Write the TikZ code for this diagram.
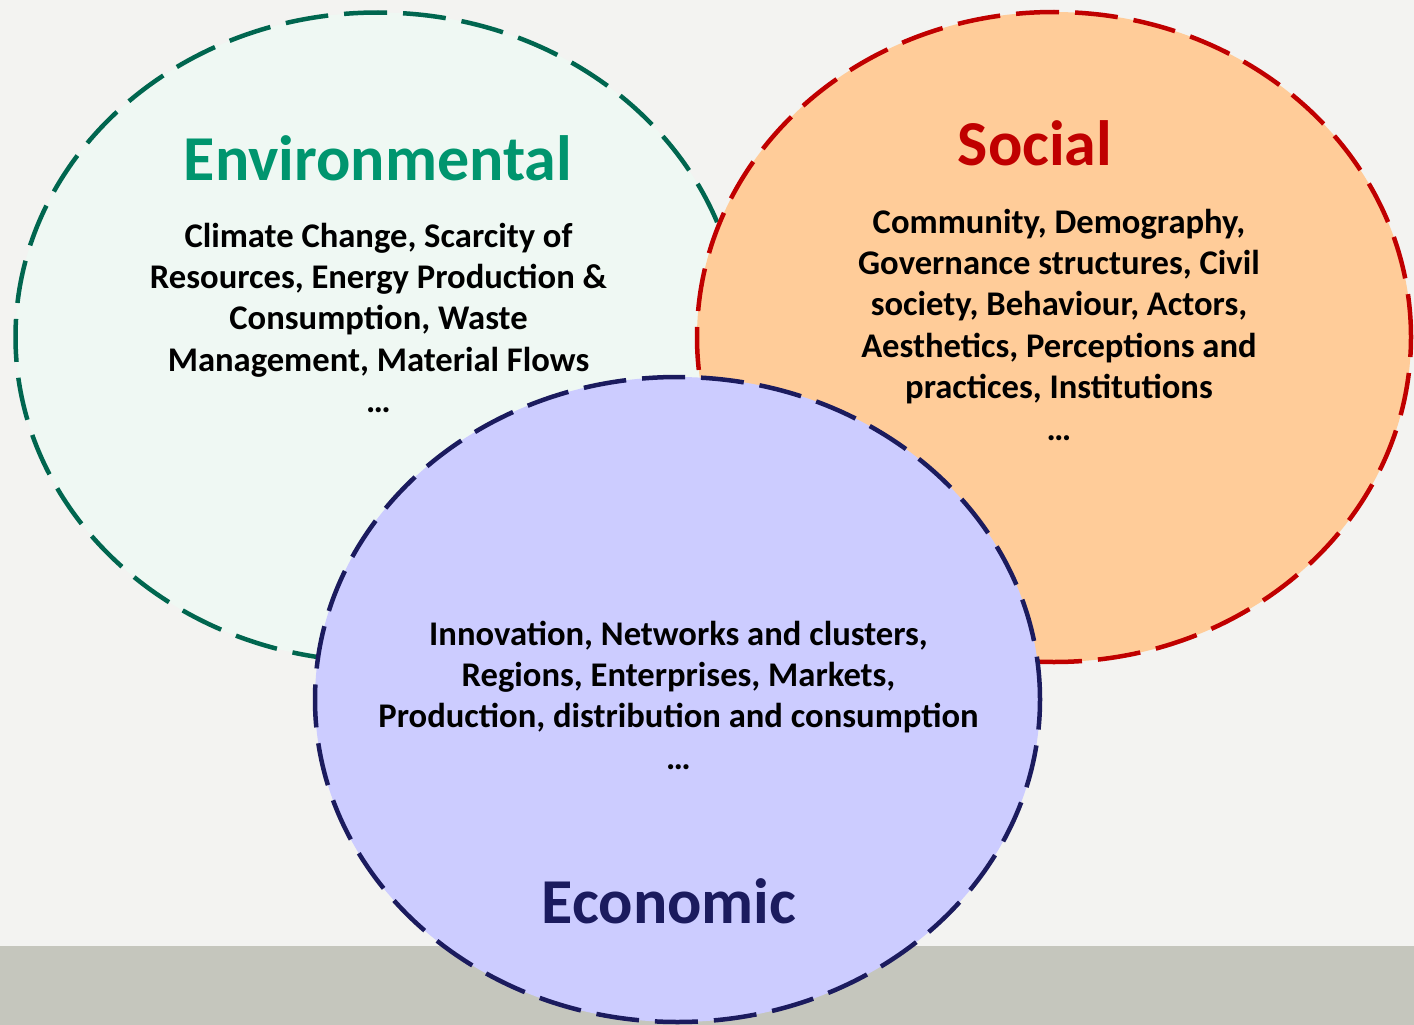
\documentclass[tikz,border=0pt]{standalone}
\usepackage{fontspec}
\setmainfont{Carlito}
\usetikzlibrary{shapes.geometric}

\definecolor{pagebg}{HTML}{F3F3F1}
\definecolor{floorband}{HTML}{C5C6BD}
\definecolor{envfill}{HTML}{EFF8F3}
\definecolor{envline}{HTML}{00664F}
\definecolor{envtitle}{HTML}{00956E}
\definecolor{socfill}{HTML}{FFCC99}
\definecolor{socline}{HTML}{C00000}
\definecolor{ecofill}{HTML}{CCCCFF}
\definecolor{ecoline}{HTML}{1B1B5E}

\tikzset{
  pillar/.style={ellipse, inner sep=0pt, outer sep=0pt,
    line width=4.5pt, dash pattern=on 43pt off 16pt},
  headline/.style={font=\bfseries\fontsize{64}{64}\selectfont, anchor=base, inner sep=0pt},
  % anchor=base of a multi-line node sits on its last line
  bodytext/.style={font=\bfseries\fontsize{34.6}{41.4}\selectfont, align=center,
    anchor=base, inner sep=0pt, text=black}
}

\begin{document}
\begin{tikzpicture}[x=1pt, y=-1pt]
  % page and floor band
  \fill[pagebg] (0,0) rectangle (1414,1025);
  \fill[floorband] (0,946) rectangle (1414,1025);
  \useasboundingbox (0,0) rectangle (1414,1025);

  % the three pillars
  \node[pillar, draw=envline, fill=envfill, minimum width=725pt, minimum height=649pt]
    (env) at (378,337) {};
  \node[pillar, draw=socline, fill=socfill, minimum width=714pt, minimum height=650pt]
    (soc) at (1054,337) {};
  \node[pillar, draw=ecoline, fill=ecofill, minimum width=725pt, minimum height=645pt]
    (eco) at (677.5,699.5) {};

  % environmental
  \node[headline, text=envtitle] (envtitle) at (378,180) {Environmental};
  \node[bodytext] (envbody) at (378.5,412.6) {Climate Change, Scarcity of\\
    Resources, Energy Production \&\\ Consumption, Waste\\
    Management, Material Flows\\ …};

  % social
  \node[headline, text=socline] (soctitle) at (1035,165) {Social};
  \node[bodytext] (socbody) at (1059,440) {Community, Demography,\\
    Governance structures, Civil\\ society, Behaviour, Actors,\\
    Aesthetics, Perceptions and\\ practices, Institutions\\ …};

  % economic
  \node[bodytext] (ecobody) at (678.5,769.2) {Innovation, Networks and clusters,\\
    Regions, Enterprises, Markets,\\ Production, distribution and consumption\\ …};
  \node[headline, text=ecoline] (ecotitle) at (669,923) {Economic};
\end{tikzpicture}
\end{document}
